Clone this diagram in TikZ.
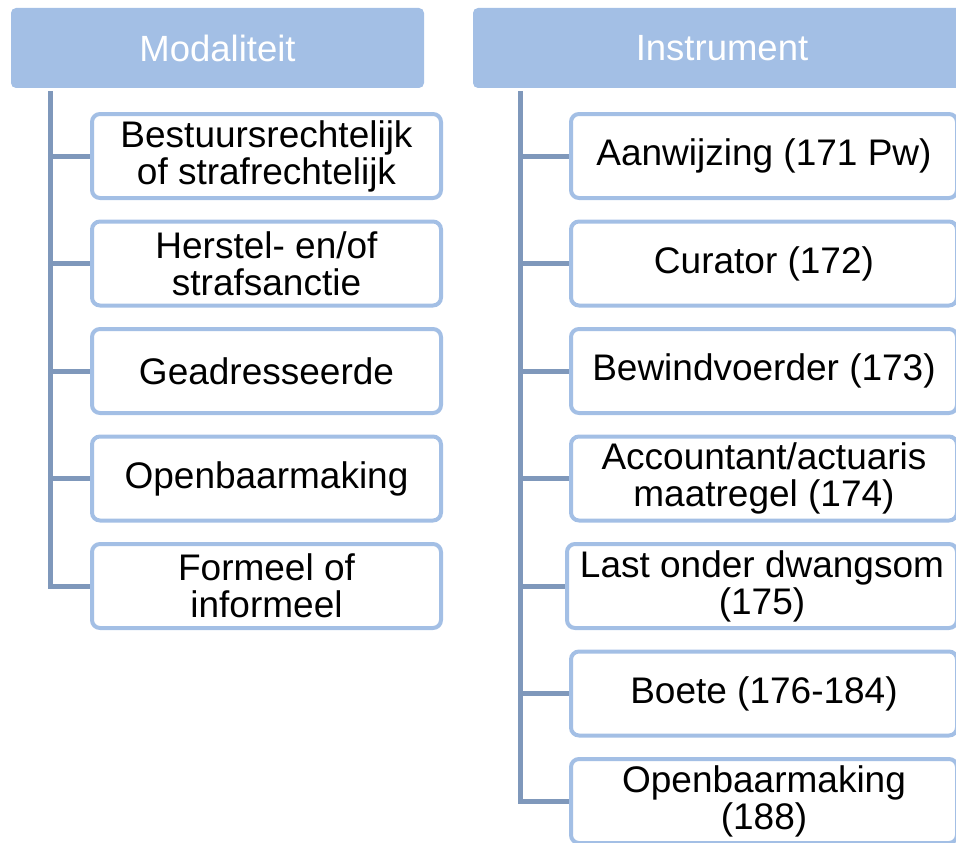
\documentclass[tikz,border=0pt]{standalone}
\usepackage{fontspec}
\setmainfont{Liberation Sans}
\definecolor{hdr}{HTML}{A3BFE5}
\definecolor{conncol}{HTML}{7F98BB}
\begin{document}
\begin{tikzpicture}[x=1pt,y=-1pt,
  hdrbox/.style={fill=hdr, draw=none, rounded corners=5pt, text=white,
    font=\fontsize{36.5}{37}\selectfont, inner sep=0pt, minimum height=80pt},
  itembox/.style={draw=hdr, line width=4pt, fill=white, rounded corners=8pt,
    font=\fontsize{37}{37}\selectfont, align=center, inner sep=0pt, minimum height=84pt},
  lbox/.style={itembox, minimum width=349pt},
  rbox/.style={itembox, minimum width=386pt},
  conn/.style={draw=conncol, line width=5pt}]
\useasboundingbox (0,0) rectangle (956,843);

% headers
\node[hdrbox, minimum width=413pt] (mh) at (217.5,48) {Modaliteit};
\node[hdrbox, minimum width=498pt] (ih) at (722,48) {Instrument};

% left column
\node[lbox] (l1) at (266.5,156) {Bestuursrechtelijk\\of strafrechtelijk};
\node[lbox] (l2) at (266.5,263.5) {Herstel- en/of\\strafsanctie};
\node[lbox] (l3) at (266.5,371) {Geadresseerde};
\node[lbox] (l4) at (266.5,478.5) {Openbaarmaking};
\node[lbox] (l5) at (266.5,586) {Formeel of\\informeel};

% right column
\node[rbox] (r1) at (764,156) {Aanwijzing (171 Pw)};
\node[rbox] (r2) at (764,263.5) {Curator (172)};
\node[rbox] (r3) at (764,371) {Bewindvoerder (173)};
\node[rbox] (r4) at (764,478.5) {Accountant/actuaris\\maatregel (174)};
\node[rbox, minimum width=390pt] (r5) at (762,586) {Last onder dwangsom\\(175)};
\node[rbox] (r6) at (764,693.5) {Boete (176-184)};
\node[rbox] (r7) at (764,801) {Openbaarmaking\\(188)};

% connectors
\coordinate (lt) at (50.5,91);
\coordinate (rt) at (520,91);
\draw[conn] (lt) |- (l5.west);
\foreach \n in {l1,l2,l3,l4} \draw[conn] (lt |- \n.west) -- (\n.west);
\draw[conn] (rt) |- (r7.west);
\foreach \n in {r1,r2,r3,r4,r5,r6} \draw[conn] (rt |- \n.west) -- (\n.west);
\end{tikzpicture}
\end{document}
